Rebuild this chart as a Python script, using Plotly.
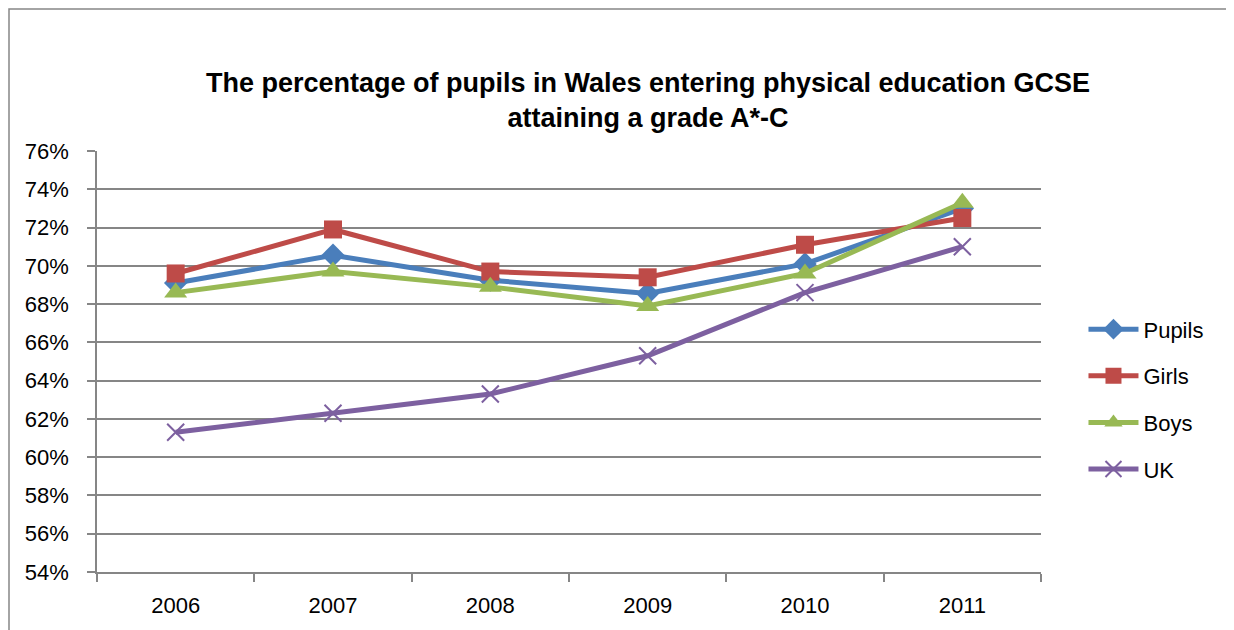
import plotly.graph_objects as go

years = ["2006", "2007", "2008", "2009", "2010", "2011"]
pupils = [69.1, 70.55, 69.25, 68.55, 70.1, 73.0]
girls = [69.6, 71.9, 69.7, 69.4, 71.1, 72.5]
boys = [68.6, 69.7, 68.9, 67.9, 69.6, 73.3]
uk = [61.3, 62.3, 63.3, 65.3, 68.6, 71.0]

series = [
    ("Pupils", pupils, "#4A7EBB", dict(symbol="diamond", size=18)),
    ("Girls", girls, "#BE4B48", dict(symbol="square", size=18)),
    ("Boys", boys, "#98B954", dict(symbol="triangle-up", size=20)),
    ("UK", uk, "#7D60A0", dict(symbol="x-thin-open", size=17, line=dict(width=2))),
]

fig = go.Figure()
for i, (name, vals, color, mk) in enumerate(series):
    marker = dict(color=color, **mk)
    if "line" in marker:
        marker["line"]["color"] = color
    fig.add_trace(go.Scatter(
        x=years, y=vals, name=name, mode="lines+markers",
        line=dict(color=color, width=5),
        marker=marker, legendgroup=name,
    ))

fig.update_layout(
    width=1234, height=630,
    margin=dict(l=89, r=201, t=143, b=66),
    paper_bgcolor="white", plot_bgcolor="white",
    font=dict(family="Liberation Sans, Arial", color="black", size=22),
    title=dict(
        text="<b>The percentage of pupils in Wales entering physical education GCSE<br>attaining a grade A*-C</b>",
        x=640 / 1234, xanchor="center", y=1 - 84 / 630, yanchor="middle",
        font=dict(size=27, family="Liberation Sans, Arial", color="black"),
    ),
    legend=dict(
        x=1.045, xanchor="left", y=0.41, yanchor="middle",
        font=dict(size=22), tracegroupgap=15, itemwidth=50,
        bgcolor="rgba(0,0,0,0)",
    ),
    showlegend=True,
)
fig.update_xaxes(
    type="category", range=[-0.5, 5.5], showline=True, linecolor="#868686", linewidth=1.5,
    ticks="outside", tickson="boundaries", ticklen=8, tickcolor="#868686",
    tickwidth=1.5, showgrid=False, tickfont=dict(size=22), ticklabelstandoff=13,
)
fig.update_yaxes(
    range=[54, 76], dtick=2, ticksuffix="%", showline=True, linecolor="#868686",
    linewidth=1.5, ticks="outside", ticklen=8, tickcolor="#868686", tickwidth=1.5,
    showgrid=True, gridcolor="#868686", gridwidth=1.5, zeroline=False,
    tickfont=dict(size=22), ticklabelstandoff=14,
)
fig.add_shape(
    type="rect", xref="paper", yref="paper",
    x0=(1 - 89) / 944, x1=(1223 - 89) / 944,
    y0=-0.3, y1=(564 - 1) / 421,
    line=dict(color="#868686", width=1.5), fillcolor="rgba(0,0,0,0)", layer="below",
)
fig.write_html("out.html")
